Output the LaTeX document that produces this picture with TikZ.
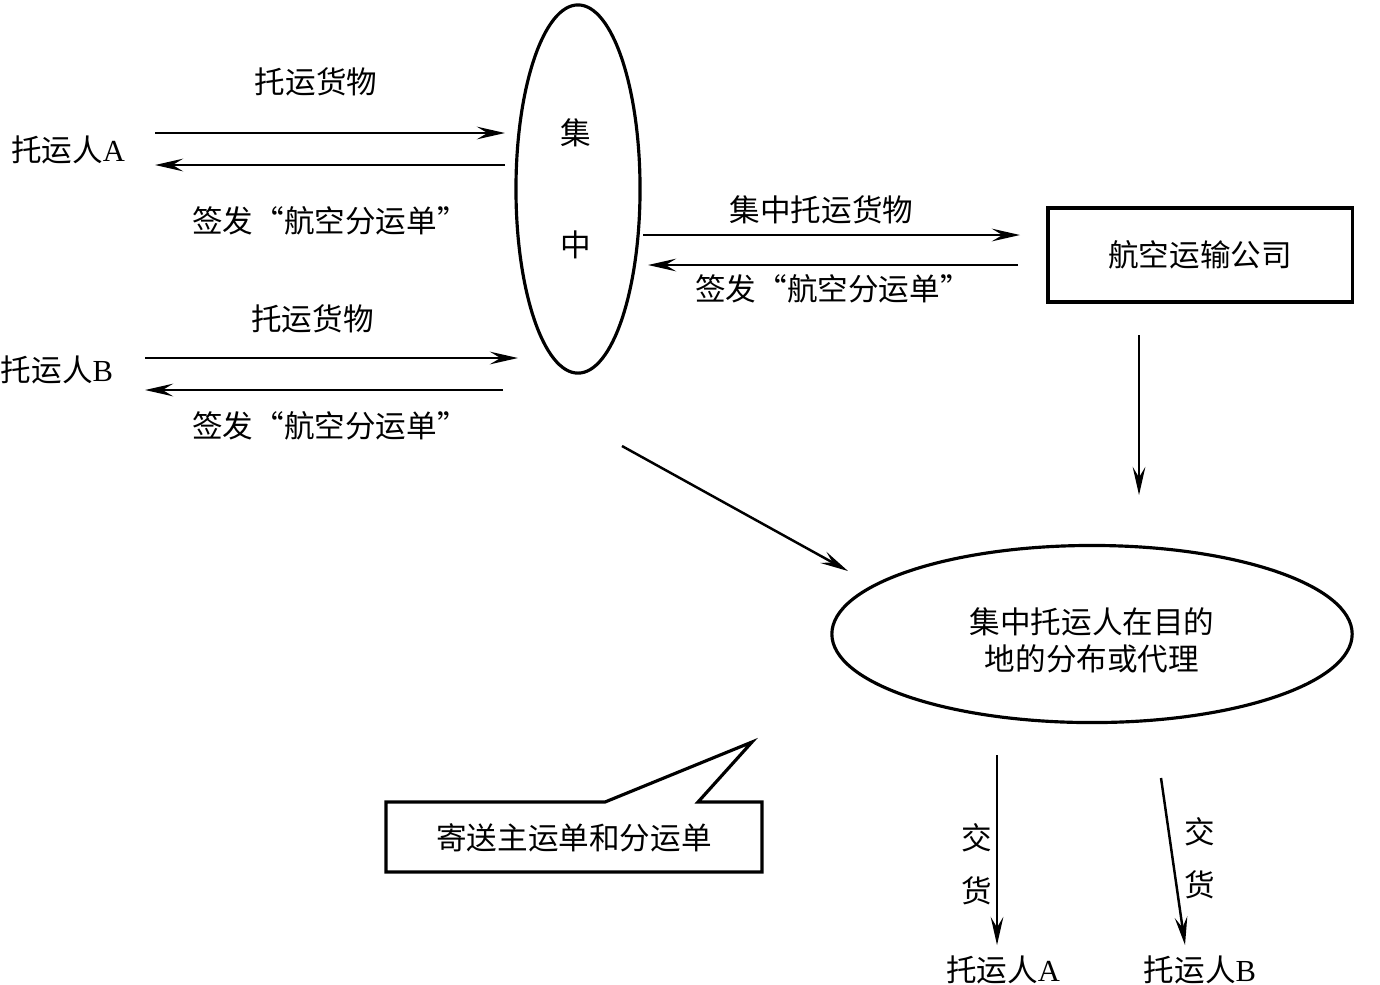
\documentclass[tikz,border=0pt]{standalone}
\usepackage{fontspec}
\setmainfont{Liberation Serif}
\newfontfamily\cjk{Noto Sans CJK SC}
\usetikzlibrary{positioning, arrows.meta, shapes.geometric}

\begin{document}
\begin{tikzpicture}[
  x=0.01cm, y=-0.01cm,
  font=\cjk\fontsize{8.7}{10.5}\selectfont,
  txt/.style   = {inner sep=0pt},
  frame/.style = {draw, line width=0.9pt},
  flow/.style  = {-{Stealth[length=8pt, width=3.6pt, inset=3pt]}, line width=0.7pt},
  lbl/.style   = {inner sep=0pt}
]
\useasboundingbox (0,0) rectangle (1380,984);
% Shippers
\node[txt] (shipA) at (68,150) {托运人{\rmfamily A}};
\node[txt] (shipB) at (57,370) {托运人{\rmfamily B}};
% Consolidator
\node[frame, ellipse, minimum width=1.24cm, minimum height=3.68cm] (hub) at (578,189) {};
\node[txt] (hub1) at (576,133) {集};
\node[txt] (hub2) at (576,245) {中};
% Airline
\node[frame, minimum width=3.04cm, minimum height=0.94cm] (airline) at (1200,255) {航空运输公司};
% Agent at destination
\node[frame, ellipse, minimum width=5.2cm, minimum height=1.77cm] (agent) at (1092,634) {};
\node[txt, align=center] (agentTxt) at (1092,640) {集中托运人在目的\\地的分布或代理};
% Consignees
\node[txt] (consA) at (1003,970) {托运人{\rmfamily A}};
\node[txt] (consB) at (1200,970) {托运人{\rmfamily B}};
% Callout
\draw[line width=0.9pt] (386,802) -- (605,802) -- (752,742) -- (698,802) -- (762,802)
  -- (762,872) -- (386,872) -- cycle;
\node[txt] (note) at (574,838) {寄送主运单和分运单};
% Arrow end points
\coordinate (a1) at (155,133);  \coordinate (a2) at (505,133);
\coordinate (a3) at (505,165);  \coordinate (a4) at (155,165);
\coordinate (b1) at (145,358);  \coordinate (b2) at (518,358);
\coordinate (b3) at (503,390);  \coordinate (b4) at (145,390);
\coordinate (c1) at (643,235);  \coordinate (c2) at (1020,235);
\coordinate (c3) at (1018,265); \coordinate (c4) at (648,265);
\coordinate (d1) at (1139,335); \coordinate (d2) at (1139,495);
\coordinate (e1) at (622,446);  \coordinate (e2) at (848,571);
\coordinate (f1) at (997,755);  \coordinate (f2) at (997,945);
\coordinate (g1) at (1161,778); \coordinate (g2) at (1185,945);
% Shipper A <-> consolidator
\draw[flow] (a1) -- node[lbl, above=0.36cm, xshift=-0.14cm] {托运货物} (a2);
\draw[flow] (a3) -- node[lbl, below=0.4cm] {签发“航空分运单”} (a4);
% Shipper B <-> consolidator
\draw[flow] (b1) -- node[lbl, above=0.24cm, xshift=-0.19cm] {托运货物} (b2);
\draw[flow] (b3) -- node[lbl, below=0.2cm, xshift=0.06cm] {签发“航空分运单”} (b4);
% Consolidator <-> airline
\draw[flow] (c1) -- node[lbl, above=0.1cm, xshift=-0.1cm] {集中托运货物} (c2);
\draw[flow] (c3) -- node[lbl, below=0.08cm] {签发“航空分运单”} (c4);
% To destination
\draw[flow] (d1) -- (d2);
\draw[flow] (e1) -- (e2);
% Delivery
\draw[flow] (f1) -- (f2);
\draw[flow] (g1) -- (g2);
\node[txt, align=center] (delA) at (977,864) {交\\[1.6mm]货};
\node[txt, align=center] (delB) at (1200,858) {交\\[1.6mm]货};
\end{tikzpicture}
\end{document}
